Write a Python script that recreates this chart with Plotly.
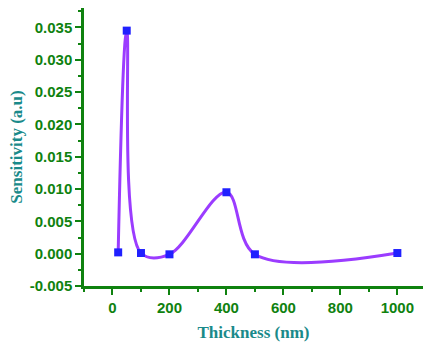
import plotly.graph_objects as go

thickness = [20, 50, 100, 200, 400, 500, 1000]
sensitivity = [0.0002, 0.0345, 0.0001, -0.0001, 0.0095, -0.0001, 0.0001]

green = "#0f820f"
teal = "#1a8a8a"

fig = go.Figure()
fig.add_trace(go.Scatter(
    x=thickness, y=sensitivity, mode="lines",
    line=dict(color="#9b3cff", width=3, shape="spline", smoothing=1.0),
    showlegend=False, hoverinfo="skip"))
fig.add_trace(go.Scatter(
    x=thickness, y=sensitivity, mode="markers",
    marker=dict(symbol="square", size=8, color="#2020ff"),
    showlegend=False))

axis_common = dict(
    showline=True, linecolor=green, linewidth=2.5, mirror=False,
    ticks="outside", tickcolor=green, tickwidth=2, ticklen=6,
    showgrid=False, zeroline=False,
    tickfont=dict(family="Liberation Sans, Arial", size=15, color=green, weight="bold"),
    minor=dict(ticks="outside", ticklen=3, tickcolor=green, tickwidth=1.5),
)

fig.update_layout(
    width=423, height=342,
    margin=dict(l=84, r=0, t=8, b=56),
    plot_bgcolor="white", paper_bgcolor="white",
    xaxis=dict(range=[-100, 1090], tickvals=[0, 200, 400, 600, 800, 1000],
               title=dict(text="Thickness (nm)", standoff=13,
                          font=dict(family="Liberation Serif, Times New Roman", size=17,
                                    color=teal, weight="bold")),
               **axis_common),
    yaxis=dict(range=[-0.005, 0.038],
               tickvals=[-0.005, 0, 0.005, 0.01, 0.015, 0.02, 0.025, 0.03, 0.035],
               ticktext=["-0.005", "0.000", "0.005", "0.010", "0.015", "0.020", "0.025", "0.030", "0.035"],
               title=dict(text="Sensitivity (a.u)", standoff=3,
                          font=dict(family="Liberation Serif, Times New Roman", size=17,
                                    color=teal, weight="bold")),
               **axis_common),
)
fig.update_xaxes(minor=dict(tickvals=[-100, 100, 300, 500, 700, 900]))
fig.update_yaxes(minor=dict(tickvals=[-0.0025, 0.0025, 0.0075, 0.0125, 0.0175, 0.0225, 0.0275, 0.0325, 0.0375]))

fig.write_html("out.html")
